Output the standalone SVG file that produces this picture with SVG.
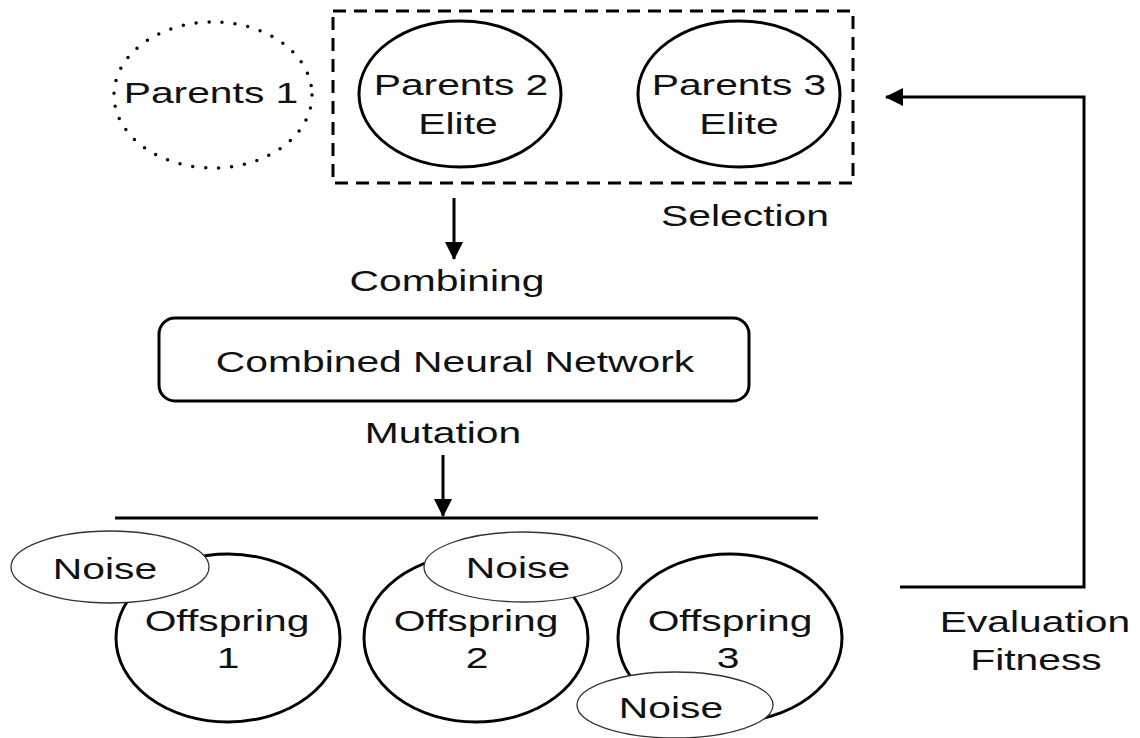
<svg xmlns="http://www.w3.org/2000/svg" width="1140" height="738" viewBox="0 0 1140 738">
  <style>
    text { font-family: "Liberation Sans", Arial, sans-serif; font-size: 30px; fill: #111; text-anchor: middle; }
    .node { fill: #fff; stroke: #000; stroke-width: 3; }
    .noise { fill: #fff; stroke: #333; stroke-width: 1.3; }
    .dotted { fill: none; stroke: #000; stroke-width: 3.5; stroke-dasharray: 0 13; stroke-linecap: round; }
    .group-box { fill: none; stroke: #000; stroke-width: 3; stroke-dasharray: 13 8; }
    .wire { fill: none; stroke: #000; stroke-width: 3; }
  </style>
  <defs>
    <marker id="head" markerUnits="userSpaceOnUse" markerWidth="18" markerHeight="18" refX="17" refY="9" orient="auto">
      <path d="M0,0 L18,9 L0,18 z" fill="#000"/>
    </marker>
  </defs>

  <rect width="1140" height="738" fill="#fff"/>

  <!-- connectors -->
  <g id="connectors">
    <line class="wire" x1="454" y1="198" x2="454" y2="259" marker-end="url(#head)"/>
    <line class="wire" x1="443" y1="455" x2="443" y2="516" marker-end="url(#head)"/>
    <line class="wire" x1="115" y1="518" x2="818" y2="518"/>
    <polyline class="wire" points="900,587 1084,587 1084,97 886,97" marker-end="url(#head)"/>
  </g>

  <!-- selection group -->
  <g id="selection">
    <rect class="group-box" x="333" y="11" width="520" height="172"/>
    <text transform="translate(745 226) scale(1.36 1)">Selection</text>
  </g>

  <g id="parents1">
    <ellipse class="dotted" cx="213" cy="95" rx="99" ry="73"/>
    <text transform="translate(211 103) scale(1.36 1)">Parents 1</text>
  </g>

  <g id="parents2">
    <ellipse class="node" cx="460" cy="94" rx="101" ry="73"/>
    <text transform="translate(461 95) scale(1.36 1)">Parents 2</text>
    <text transform="translate(458 134) scale(1.36 1)">Elite</text>
  </g>

  <g id="parents3">
    <ellipse class="node" cx="739" cy="94" rx="101" ry="73"/>
    <text transform="translate(739 95) scale(1.36 1)">Parents 3</text>
    <text transform="translate(739 134) scale(1.36 1)">Elite</text>
  </g>

  <g id="combining">
    <text transform="translate(447 291) scale(1.36 1)">Combining</text>
  </g>

  <g id="combined-network">
    <rect class="node" x="159" y="318" width="590" height="83" rx="16"/>
    <text transform="translate(455 372) scale(1.36 1)">Combined Neural Network</text>
  </g>

  <g id="mutation">
    <text transform="translate(443 443) scale(1.36 1)">Mutation</text>
  </g>

  <g id="offspring1">
    <ellipse class="node" cx="228" cy="638" rx="112" ry="84"/>
    <text transform="translate(227 631) scale(1.36 1)">Offspring</text>
    <text transform="translate(228 668) scale(1.36 1)">1</text>
  </g>
  <g id="noise1">
    <ellipse class="noise" cx="110" cy="567" rx="99" ry="36"/>
    <text transform="translate(105 579) scale(1.36 1)">Noise</text>
  </g>

  <g id="offspring2">
    <ellipse class="node" cx="476" cy="638" rx="112" ry="84"/>
    <text transform="translate(476 631) scale(1.36 1)">Offspring</text>
    <text transform="translate(477 668) scale(1.36 1)">2</text>
  </g>
  <g id="noise2">
    <ellipse class="noise" cx="523" cy="567" rx="99" ry="35"/>
    <text transform="translate(518 578) scale(1.36 1)">Noise</text>
  </g>

  <g id="offspring3">
    <ellipse class="node" cx="730" cy="638" rx="112" ry="84"/>
    <text transform="translate(730 631) scale(1.36 1)">Offspring</text>
    <text transform="translate(728 668) scale(1.36 1)">3</text>
  </g>
  <g id="noise3">
    <ellipse class="noise" cx="675" cy="705" rx="98" ry="33"/>
    <text transform="translate(671 718) scale(1.36 1)">Noise</text>
  </g>

  <g id="evaluation">
    <text transform="translate(1035 632) scale(1.36 1)">Evaluation</text>
    <text transform="translate(1036 670) scale(1.36 1)">Fitness</text>
  </g>
</svg>
